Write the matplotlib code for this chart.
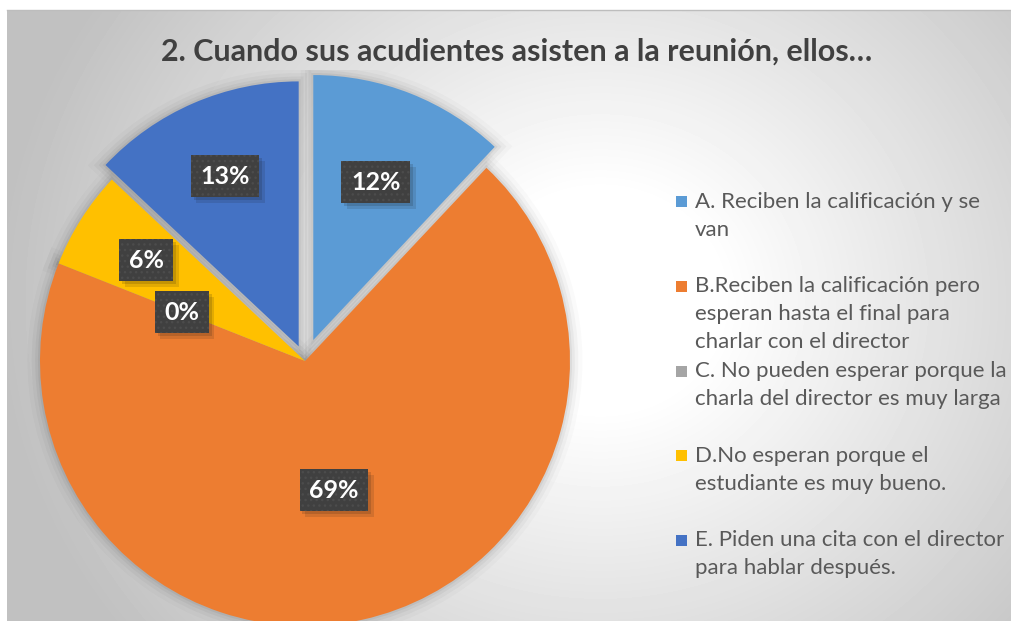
import numpy as np
import matplotlib.pyplot as plt
import matplotlib.patheffects as pe
from matplotlib.patches import Rectangle, Wedge
from matplotlib.lines import Line2D

title = "2. Cuando sus acudientes asisten a la reunión, ellos…"
labels = ["A. Reciben la calificación y se\nvan",
          "B.Reciben la calificación pero\nesperan hasta el final para\ncharlar con el director",
          "C. No pueden esperar porque la\ncharla del director es muy larga",
          "D.No esperan porque el\nestudiante es muy bueno.",
          "E. Piden una cita con el director\npara hablar después."]
percent = [12, 69, 0, 6, 13]
colors = ["#5b9bd5", "#ed7d31", "#a5a5a5", "#ffc000", "#4472c4"]
explode = [0.085, 0, 0, 0, 0.06]
label_dist = [0.64, 0.5, 0.5, 0.71, 0.70]

plt.rcParams['font.family'] = ['Lato', 'DejaVu Sans']


class PlainShadow(pe.SimplePatchShadow):
    # shadow without the hatch dots of the label box
    def draw_path(self, renderer, gc, tpath, affine, rgbFace):
        gc0 = renderer.new_gc()
        gc0.copy_properties(gc)
        gc0.set_hatch(None)
        super().draw_path(renderer, gc0, tpath, affine, rgbFace)
        gc0.restore()


W, H = 1012, 621
fig = plt.figure(figsize=(W / 100, H / 100), dpi=100)

# grey radial background like the excel chart area
bg = fig.add_axes([7 / W, 0, 1 - 7 / W, 1 - 10 / H])
yy, xx = np.mgrid[10:H, 7:W]
d = np.hypot(xx - 600, (yy - 300) * 1.1)
shade = 255 - 62 * np.clip((d - 120) / 480, 0, 1)
bg.imshow(shade, cmap='gray', vmin=0, vmax=255, aspect='auto')
bg.axis('off')
fig.add_artist(Line2D([7 / W, 1], [1 - 10 / H] * 2, color='#bdbdbd', lw=1,
                      transform=fig.transFigure))

# pie
R, cx, cy, lim = 265, 305, 361, 1.1
ax = fig.add_axes([(cx - lim * R) / W, (H - cy - lim * R) / H,
                   2 * lim * R / W, 2 * lim * R / H])
wedges, _ = ax.pie(percent, colors=colors, startangle=90, counterclock=False,
                   explode=explode, wedgeprops=dict(linewidth=0))
ax.set_xlim(-lim, lim)
ax.set_ylim(-lim, lim)

# soft shadow drawn under all slices
glow = [pe.Stroke(linewidth=w, foreground='black', alpha=a)
        for w, a in [(18, 0.02), (12, 0.03), (7, 0.04), (3, 0.05)]]
for w, p in zip(wedges, percent):
    if p == 0:
        continue
    sh = Wedge(w.center, w.r, w.theta1, w.theta2, facecolor='black',
               alpha=0.0, lw=0, zorder=0.5)
    sh.set_path_effects(glow)
    ax.add_patch(sh)

for w, p, ld in zip(wedges, percent, label_dist):
    ang = np.deg2rad((w.theta1 + w.theta2) / 2)
    x = w.center[0] + ld * w.r * np.cos(ang)
    y = w.center[1] + ld * w.r * np.sin(ang)
    t = ax.text(x, y, f"{p}%", ha='center', va='center', color='white',
                fontsize=18, fontweight='bold',
                bbox=dict(boxstyle='square,pad=0.38', facecolor='#404040',
                          edgecolor='#4c4c4c', linewidth=0, hatch='...'))
    t.get_bbox_patch().set_path_effects(
        [PlainShadow(offset=(4, -4), alpha=0.12),
         PlainShadow(offset=(2, -2), alpha=0.15), pe.Normal()])

# title
fig.text(517 / W, 1 - 52 / H, title, ha='center', va='center', fontsize=22,
         fontweight='bold', color='#404040')

# legend
for i, (lab, c) in enumerate(zip(labels, colors)):
    yb = 208 + i * 84.75
    fig.add_artist(Rectangle((676 / W, 1 - (yb - 1) / H), 11 / W, 11 / H,
                             transform=fig.transFigure, facecolor=c, lw=0))
    fig.text(695 / W, 1 - (yb - 16.5) / H, lab, ha='left', va='top', fontsize=16,
             color='#595959', linespacing=1.5)

fig.savefig('out.png', dpi=100)
plt.close()
